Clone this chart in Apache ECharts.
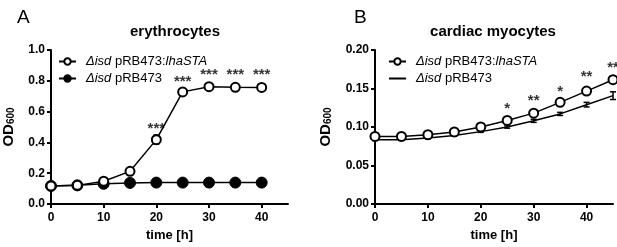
<!DOCTYPE html>
<html><head><meta charset="utf-8">
<script src="https://cdn.jsdelivr.net/npm/echarts@6/dist/echarts.min.js"></script>
<style>html,body{margin:0;padding:0;background:#fff}#c{width:617px;height:247px}</style>
</head><body><div id="c"></div>
<script>
// ---- Data ----
const timesA = [0, 5, 10, 15, 20, 25, 30, 35, 40];
const lhaA = [0.117, 0.121, 0.148, 0.212, 0.418, 0.728, 0.762, 0.758, 0.757];
const lhaAErr = [0.004, 0.004, 0.006, 0.008, 0.03, 0.01, 0.006, 0.006, 0.006];
const ctrlA = [0.117, 0.121, 0.131, 0.137, 0.139, 0.139, 0.139, 0.139, 0.139];
const ctrlAErr = [0.003, 0.003, 0.003, 0.003, 0.003, 0.003, 0.003, 0.003, 0.003];
const sigTimesA = [20, 25, 30, 35, 40];
const sigLabelsA = ['***', '***', '***', '***', '***'];
const sigYA = [0.508, 0.814, 0.861, 0.861, 0.861];

const timesB = [0, 5, 10, 15, 20, 25, 30, 35, 40, 45];
const lhaB = [0.0877, 0.0877, 0.0900, 0.0936, 0.1000, 0.1085, 0.1180, 0.1320, 0.1466, 0.1614];
const lhaBErr = [0.0015, 0.0015, 0.001, 0.001, 0.001, 0.001, 0.0015, 0.002, 0.003, 0.003];
const ctrlB = [0.0835, 0.0835, 0.0856, 0.0890, 0.0940, 0.1000, 0.1080, 0.1170, 0.1290, 0.1407];
const ctrlBErr = [0.001, 0.001, 0.001, 0.001, 0.001, 0.0015, 0.002, 0.002, 0.003, 0.005];
const sigTimesB = [25, 30, 35, 40, 45];
const sigLabelsB = ['*', '**', '*', '**', '**'];
const sigYB = [0.128, 0.1376, 0.150, 0.1696, 0.181];

const xTicks = [0, 10, 20, 30, 40];
const legendLabel = { lha: '{i|\u0394isd} pRB473:{i|lhaSTA}', ctrl: '{i|\u0394isd} pRB473' };

// ---- Chart ----
const FONT = '"Liberation Sans", Arial, sans-serif';
const chart = echarts.init(document.getElementById('c'), null, { renderer: 'canvas' });

function pairs(xs, ys) { return xs.map((x, i) => [x, ys[i]]); }
function errData(xs, ys, es) { return xs.map((x, i) => [x, ys[i] - es[i], ys[i] + es[i]]); }
function errSeries(idx, xs, ys, es) {
  return {
    type: 'custom', xAxisIndex: idx, yAxisIndex: idx, z: 1, silent: true, clip: false,
    data: errData(xs, ys, es),
    renderItem: function (params, api) {
      const lo = api.coord([api.value(0), api.value(1)]);
      const hi = api.coord([api.value(0), api.value(2)]);
      const w = 3;
      const st = { stroke: '#000', lineWidth: 1.5 };
      return { type: 'group', children: [
        { type: 'line', shape: { x1: lo[0], y1: lo[1], x2: hi[0], y2: hi[1] }, style: st },
        { type: 'line', shape: { x1: lo[0] - w, y1: lo[1], x2: lo[0] + w, y2: lo[1] }, style: st },
        { type: 'line', shape: { x1: hi[0] - w, y1: hi[1], x2: hi[0] + w, y2: hi[1] }, style: st }
      ]};
    }
  };
}
function sigSeries(idx, xs, ys, labels) {
  return {
    type: 'scatter', xAxisIndex: idx, yAxisIndex: idx, symbolSize: 0, silent: true,
    data: xs.map((x, i) => ({ value: [x, ys[i]], lab: labels[i] })),
    label: { show: true, position: 'inside', offset: [0, 3],
      formatter: p => p.data.lab, color: '#000', fontSize: 15, fontWeight: 'bold', fontFamily: FONT },
    clip: false
  };
}
function xAxis(idx) {
  return {
    type: 'value', gridIndex: idx, min: 0, max: 45, interval: 10,
    axisLine: { lineStyle: { color: '#000', width: 2 } },
    axisTick: { length: 4, lineStyle: { width: 2, color: '#000' }, customValues: xTicks },
    axisLabel: { color: '#000', fontWeight: 'bold', fontSize: 12, fontFamily: FONT, margin: 8, customValues: xTicks },
    splitLine: { show: false },
    name: 'time [h]', nameLocation: 'middle', nameGap: 25,
    nameTextStyle: { color: '#000', fontWeight: 'bold', fontSize: 13, fontFamily: FONT }
  };
}
function yAxis(idx, max, interval, fmt) {
  return {
    type: 'value', gridIndex: idx, min: 0, max: max, interval: interval,
    axisLine: { show: true, lineStyle: { color: '#000', width: 2 } },
    axisTick: { show: true, length: 4, lineStyle: { width: 2, color: '#000' } },
    axisLabel: { color: '#000', fontWeight: 'bold', fontSize: 12, fontFamily: FONT, margin: 6,
      formatter: v => v.toFixed(fmt) },
    splitLine: { show: false },
    name: 'OD{s|600}', nameLocation: 'middle', nameGap: idx === 0 ? 35 : 42,
    nameTextStyle: { color: '#000', fontWeight: 'bold', fontSize: 15, fontFamily: FONT,
      rich: { s: { fontSize: 10, fontWeight: 'bold', fontFamily: FONT, color: '#000', padding: [5, 0, 0, 0] } } }
  };
}

const legendRich = { i: { fontStyle: 'italic', fontSize: 13, fontFamily: FONT, color: '#000' } };
function legendCfg(left, prefix) {
  return {
    left: left, top: 50, orient: 'vertical', itemGap: 4, itemWidth: 17, itemHeight: 8,
    data: [{ name: prefix + 'lha' }, { name: prefix + 'ctrl', itemStyle: prefix === 'B-' ? { opacity: 0 } : undefined }],
    formatter: n => legendLabel[n.slice(2)],
    textStyle: { fontSize: 13, color: '#000', fontFamily: FONT, rich: legendRich, padding: [0, 0, 0, 5] }
  };
}

chart.setOption({
  animation: false,
  textStyle: { fontFamily: FONT },
  title: [
    { text: 'A', left: 12, top: 3, textStyle: { fontSize: 19, fontWeight: 'normal', color: '#000', fontFamily: FONT } },
    { text: 'B', left: 349, top: 3, textStyle: { fontSize: 19, fontWeight: 'normal', color: '#000', fontFamily: FONT } },
    { text: 'erythrocytes', left: 170, textAlign: 'center', top: 19, textStyle: { fontSize: 15, fontWeight: 'bold', color: '#000', fontFamily: FONT } },
    { text: 'cardiac myocytes', left: 488, textAlign: 'center', top: 19, textStyle: { fontSize: 15, fontWeight: 'bold', color: '#000', fontFamily: FONT } }
  ],
  legend: [legendCfg(53, 'A-'), legendCfg(383, 'B-')],
  grid: [
    { left: 51, right: 329, top: 50, bottom: 40 },
    { left: 375, right: 4, top: 50, bottom: 40 }
  ],
  xAxis: [xAxis(0), xAxis(1)],
  yAxis: [yAxis(0, 1.0, 0.2, 1), yAxis(1, 0.20, 0.05, 2)],
  series: [
    errSeries(0, timesA, lhaA, lhaAErr),
    errSeries(0, timesA, ctrlA, ctrlAErr),
    { name: 'A-lha', type: 'line', xAxisIndex: 0, yAxisIndex: 0, data: pairs(timesA, lhaA),
      symbol: 'circle', symbolSize: 9, z: 3,
      lineStyle: { color: '#000', width: 1.5 },
      itemStyle: { color: '#fff', borderColor: '#000', borderWidth: 2 } },
    { name: 'A-ctrl', type: 'line', xAxisIndex: 0, yAxisIndex: 0, data: pairs(timesA, ctrlA),
      symbol: 'circle', symbolSize: 11, z: 2,
      lineStyle: { color: '#000', width: 1.5 },
      itemStyle: { color: '#000', borderColor: '#000', borderWidth: 1 } },
    sigSeries(0, sigTimesA, sigYA, sigLabelsA),
    errSeries(1, timesB, lhaB, lhaBErr),
    errSeries(1, timesB, ctrlB, ctrlBErr),
    { name: 'B-lha', type: 'line', xAxisIndex: 1, yAxisIndex: 1, data: pairs(timesB, lhaB),
      symbol: 'circle', symbolSize: 9, z: 3, clip: false,
      lineStyle: { color: '#000', width: 1.5 },
      itemStyle: { color: '#fff', borderColor: '#000', borderWidth: 2 } },
    { name: 'B-ctrl', type: 'line', xAxisIndex: 1, yAxisIndex: 1, data: pairs(timesB, ctrlB),
      symbol: 'none', z: 2, clip: false,
      lineStyle: { color: '#000', width: 1.5 },
      itemStyle: { color: '#000' } },
    sigSeries(1, sigTimesB, sigYB, sigLabelsB)
  ]
});
</script></body></html>
